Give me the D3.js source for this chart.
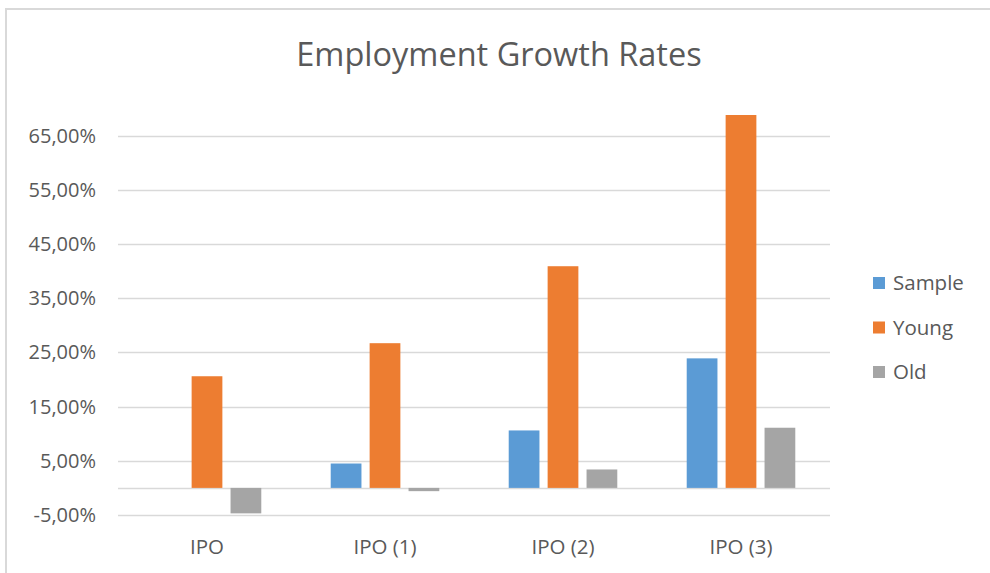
<!DOCTYPE html>
<html>
<head>
<meta charset="utf-8">
<script src="https://cdn.jsdelivr.net/npm/d3@7"></script>
<style>
  body { margin: 0; background: #fff; }
  svg { display: block; font-family: "Open Sans", sans-serif; }
</style>
</head>
<body>
<svg id="chart" width="990" height="573"></svg>
<script>
// data (percent)
var categories = ["IPO", "IPO (1)", "IPO (2)", "IPO (3)"];
var seriesNames = ["Sample", "Young", "Old"];
var sampleValues = [0.0, 4.5, 10.6, 23.9];
var youngValues = [20.6, 26.7, 40.9, 68.8];
var oldValues = [-4.7, -0.6, 3.4, 11.1];
var tickValues = [-5, 5, 15, 25, 35, 45, 55, 65];
var colors = ["#5b9bd5", "#ed7d31", "#a5a5a5"];

var allSeries = [sampleValues, youngValues, oldValues];

var svg = d3.select("#chart");

// chart frame (only top and left edges are visible)
svg.append("rect")
  .attr("x", 6).attr("y", 9)
  .attr("width", 1000).attr("height", 600)
  .attr("fill", "none")
  .attr("stroke", "#d9d9d9")
  .attr("stroke-width", 2);

// title
svg.append("text")
  .attr("x", 499).attr("y", 66)
  .attr("text-anchor", "middle")
  .attr("font-size", 32.5)
  .attr("fill", "#595959")
  .text("Employment Growth Rates");

var plot = { left: 118, right: 830, top: 108, bottom: 515 };

var y = d3.scaleLinear()
  .domain([-5, 70])
  .range([plot.bottom, plot.bottom - 75 * 5.42]);

var x0 = d3.scaleBand()
  .domain(categories)
  .range([plot.left, plot.right])
  .paddingInner(0.39)
  .paddingOuter(0.195);

var x1 = d3.scaleBand()
  .domain(seriesNames)
  .range([0, x0.bandwidth()])
  .paddingInner(0.21);

// gridlines + zero line
var gridVals = tickValues.concat([0]);
svg.append("g")
  .selectAll("line")
  .data(gridVals)
  .join("line")
  .attr("x1", plot.left).attr("x2", plot.right)
  .attr("y1", function(d) { return Math.round(y(d)) + 0.5; })
  .attr("y2", function(d) { return Math.round(y(d)) + 0.5; })
  .attr("stroke", "#d9d9d9")
  .attr("stroke-width", 1.5);

// y axis labels
var yAxis = d3.axisLeft(y)
  .tickValues(tickValues)
  .tickSize(0)
  .tickPadding(0)
  .tickFormat(function(d) { return d3.format(".2f")(d).replace(".", ",").replace("\u2212", "-") + "%"; });

var yg = svg.append("g")
  .attr("transform", "translate(" + 96 + ",0)")
  .call(yAxis);
yg.select(".domain").remove();
yg.selectAll("text")
  .attr("font-size", 20)
  .attr("font-family", "'Open Sans', sans-serif")
  .attr("fill", "#595959");

// bars
var groups = svg.append("g")
  .selectAll("g")
  .data(categories)
  .join("g")
  .attr("transform", function(d) { return "translate(" + x0(d) + ",0)"; });

groups.selectAll("rect")
  .data(function(d, i) {
    return seriesNames.map(function(s, j) { return { name: s, value: allSeries[j][i] }; });
  })
  .join("rect")
  .attr("x", function(d) { return x1(d.name); })
  .attr("width", x1.bandwidth())
  .attr("y", function(d) { return y(Math.max(0, d.value)); })
  .attr("height", function(d) { return Math.abs(y(d.value) - y(0)); })
  .attr("fill", function(d) { return colors[seriesNames.indexOf(d.name)]; });

// x axis labels
var xAxis = d3.axisBottom(x0).tickSize(0).tickPadding(0);
var xg = svg.append("g")
  .attr("transform", "translate(0," + 539 + ")")
  .call(xAxis);
xg.select(".domain").remove();
xg.selectAll("text")
  .attr("font-size", 20.5)
  .attr("font-family", "'Open Sans', sans-serif")
  .attr("fill", "#595959");

// legend
var legend = svg.append("g")
  .selectAll("g")
  .data(seriesNames)
  .join("g")
  .attr("transform", function(d, i) { return "translate(873," + (283 + i * 44.5) + ")"; });

legend.append("rect")
  .attr("x", 0).attr("y", -6)
  .attr("width", 12).attr("height", 12)
  .attr("fill", function(d, i) { return colors[i]; });

legend.append("text")
  .attr("x", 20).attr("y", 0)
  .attr("dy", "0.35em")
  .attr("font-size", 20.5)
  .attr("fill", "#595959")
  .text(function(d) { return d; });
</script>
</body>
</html>
